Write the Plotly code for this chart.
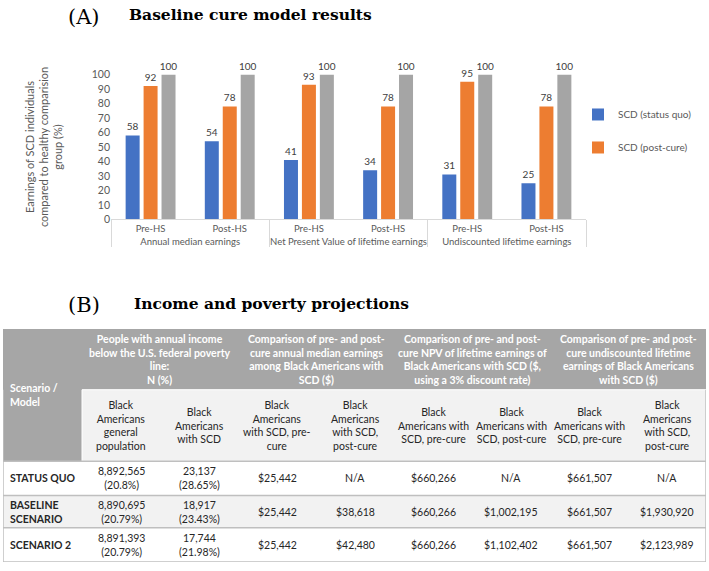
import plotly.graph_objects as go

W, H = 709, 571

# ---------------- data : panel A ----------------
measures = ["Annual median earnings", "Annual median earnings",
            "Net Present Value of lifetime earnings", "Net Present Value of lifetime earnings",
            "Undiscounted lifetime earnings", "Undiscounted lifetime earnings"]
periods = ["Pre-HS", "Post-HS", "Pre-HS", "Post-HS", "Pre-HS", "Post-HS"]
status_quo = [58, 54, 41, 34, 31, 25]
post_cure = [92, 78, 93, 78, 95, 78]
healthy = [100, 100, 100, 100, 100, 100]
series_names = ["SCD (status quo)", "SCD (post-cure)", "Healthy comparison group"]
y_title = "Earnings of SCD individuals<br>compared to healthy comparision<br>group (%)"

# ---------------- data : panel B ----------------
corner_label = "Scenario /<br>Model"
group_headers = [
    "People with annual income<br>below the U.S. federal poverty<br>line:<br>N (%)",
    "Comparison of pre- and post-<br>cure annual median earnings<br>among Black Americans with<br>SCD ($)",
    "Comparison of pre- and post-<br>cure NPV of lifetime earnings of<br>Black Americans with SCD ($,<br>using a 3% discount rate)",
    "Comparison of pre- and post-<br>cure undiscounted lifetime<br>earnings of Black Americans<br>with SCD ($)",
]
sub_headers = [
    "Black<br>Americans<br>general<br>population",
    "Black<br>Americans<br>with SCD",
    "Black<br>Americans<br>with SCD, pre-<br>cure",
    "Black<br>Americans<br>with SCD,<br>post-cure",
    "Black<br>Americans with<br>SCD, pre-cure",
    "Black<br>Americans with<br>SCD, post-cure",
    "Black<br>Americans with<br>SCD, pre-cure",
    "Black<br>Americans<br>with SCD,<br>post-cure",
]
row_labels = ["STATUS QUO", "BASELINE<br>SCENARIO", "SCENARIO 2"]
row_status_quo = ["8,892,565<br>(20.8%)", "23,137<br>(28.65%)", "$25,442", "N/A",
                  "$660,266", "N/A", "$661,507", "N/A"]
row_baseline = ["8,890,695<br>(20.79%)", "18,917<br>(23.43%)", "$25,442", "$38,618",
                "$660,266", "$1,002,195", "$661,507", "$1,930,920"]
row_scenario2 = ["8,891,393<br>(20.79%)", "17,744<br>(21.98%)", "$25,442", "$42,480",
                 "$660,266", "$1,102,402", "$661,507", "$2,123,989"]
data_rows = [row_status_quo, row_baseline, row_scenario2]

# ---------------- styles ----------------
FONT = "Lato, 'Open Sans', sans-serif"
SERIF = "'DejaVu Serif', serif"
colors = ["#4472C4", "#ED7D31", "#A5A5A5"]
TXT = "#595959"
DARK = "#A6A6A6"
LIGHT = "#F2F2F2"
LINE = "#BFBFBF"

fig = go.Figure()

values = [status_quo, post_cure, healthy]
for i, (name, vals) in enumerate(zip(series_names, values)):
    fig.add_trace(go.Bar(
        x=[measures, periods], y=vals, name=name,
        marker=dict(color=colors[i], line=dict(width=0)),
        text=vals, textposition="outside", cliponaxis=False,
        constraintext="none",
        textfont=dict(family=FONT, size=10, color="#404040"),
        showlegend=(i < 2), legendgroup=name,
        xaxis="x", yaxis="y",
    ))

# ---------------- table geometry (layout constants) ----------------
col_w = [79] + [78] * 8
row_h = [62, 73, 35, 33, 35]
col_edges = [sum(col_w[:i]) for i in range(len(col_w) + 1)]
row_edges = [sum(row_h[:i]) for i in range(len(row_h) + 1)]


def cx(c0, c1=None):
    c1 = c0 if c1 is None else c1
    return (col_edges[c0] + col_edges[c1 + 1]) / 2


def cy(r):
    return (row_edges[r] + row_edges[r + 1]) / 2


shapes = []
annotations = []


def rect(c0, c1, r0, r1, fill, lw=0, lc=None):
    shapes.append(dict(type="rect", xref="x2", yref="y2",
                       x0=col_edges[c0], x1=col_edges[c1 + 1],
                       y0=row_edges[r0], y1=row_edges[r1 + 1],
                       fillcolor=fill, line=dict(width=lw, color=lc or fill),
                       layer="below"))


ncol = len(col_w)
# header backgrounds
rect(0, ncol - 1, 0, 0, DARK)
rect(0, 0, 0, 1, DARK)
rect(1, ncol - 1, 1, 1, LIGHT, 1, "#FFFFFF")
# data row backgrounds
row_fills = ["#FFFFFF", LIGHT, "#FFFFFF"]
for k, f in enumerate(row_fills):
    rect(0, ncol - 1, 2 + k, 2 + k, f)
# row separators
for r in range(2, len(row_edges)):
    shapes.append(dict(type="line", xref="x2", yref="y2",
                       x0=col_edges[0], x1=col_edges[-1],
                       y0=row_edges[r], y1=row_edges[r],
                       line=dict(color=LINE, width=1.5)))
# outer vertical borders of body
for xe in (col_edges[0], col_edges[-1]):
    shapes.append(dict(type="line", xref="x2", yref="y2",
                       x0=xe, x1=xe, y0=row_edges[1], y1=row_edges[-1],
                       line=dict(color=LINE, width=1.5)))

TFS = 10.5


def cell_text(x, y, txt, color="#262626", bold=False, align="center", xanchor="center"):
    annotations.append(dict(xref="x2", yref="y2", x=x, y=y, text=txt,
                            showarrow=False, align=align, xanchor=xanchor,
                            yanchor="middle",
                            font=dict(family=FONT, size=TFS, color=color,
                                      weight="bold" if bold else "normal")))


# corner cell (spans two header rows)
cell_text(col_edges[0] + 5, (row_edges[0] + row_edges[2]) / 2, corner_label,
          color="#FFFFFF", bold=True, align="left", xanchor="left")
for g, txt in enumerate(group_headers):
    cell_text(cx(1 + 2 * g, 2 + 2 * g), cy(0), txt, color="#FFFFFF", bold=True)
for c, txt in enumerate(sub_headers):
    cell_text(cx(c + 1), cy(1), txt)
for r, (lab, vals) in enumerate(zip(row_labels, data_rows)):
    cell_text(col_edges[0] + 5, cy(r + 2), lab, bold=True, align="left", xanchor="left")
    for c, v in enumerate(vals):
        cell_text(cx(c + 1), cy(r + 2), v)

# panel titles
annotations += [
    dict(xref="paper", yref="paper", x=84 / W, y=1 - 11 / H, text="(A)", showarrow=False,
         xanchor="center", yanchor="middle", font=dict(family=SERIF, size=21, color="#000000")),
    dict(xref="paper", yref="paper", x=127 / W, y=1 - 9 / H, text="Baseline cure model results",
         showarrow=False, xanchor="left", yanchor="middle",
         font=dict(family=SERIF, size=15.5, color="#000000", weight="bold")),
    dict(xref="paper", yref="paper", x=84 / W, y=1 - 305 / H, text="(B)", showarrow=False,
         xanchor="center", yanchor="middle", font=dict(family=SERIF, size=21, color="#000000")),
    dict(xref="paper", yref="paper", x=132 / W, y=1 - 304 / H, text="Income and poverty projections",
         showarrow=False, xanchor="left", yanchor="middle",
         font=dict(family=SERIF, size=15.5, color="#000000", weight="bold")),
]

fig.update_layout(
    width=W, height=H,
    margin=dict(l=0, r=0, t=0, b=0),
    paper_bgcolor="#FFFFFF", plot_bgcolor="rgba(0,0,0,0)",
    barmode="group", bargap=0.32, bargroupgap=0.22,
    font=dict(family=FONT, color=TXT),
    xaxis=dict(type="multicategory", domain=[111 / W, 586 / W], anchor="y",
               showline=True, linecolor="#D9D9D9", linewidth=1,
               showdividers=True, dividercolor="#D9D9D9", dividerwidth=1,
               tickfont=dict(family=FONT, size=9.5, color=TXT), showgrid=False,
               ticks="outside", ticklen=6, tickcolor="rgba(0,0,0,0)"),
    yaxis=dict(domain=[1 - 218 / H, 1 - 70 / H], anchor="x", range=[0, 100], dtick=10,
               showgrid=False, zeroline=False, showline=False, ticks="",
               tickfont=dict(family=FONT, size=10.5, color=TXT),
               title=dict(text=y_title, standoff=26,
                          font=dict(family=FONT, size=11, color=TXT))),
    xaxis2=dict(domain=[3 / W, 706 / W], range=[0, col_edges[-1]], anchor="y2",
                visible=False, fixedrange=True),
    yaxis2=dict(domain=[1 - 568 / H, 1 - 330 / H], range=[row_edges[-1], 0], anchor="x2",
                visible=False, fixedrange=True),
    legend=dict(x=578 / W, y=1 - 96 / H, xanchor="left", yanchor="top",
                font=dict(family=FONT, size=10, color=TXT),
                tracegroupgap=14, bgcolor="rgba(0,0,0,0)", itemclick=False),
    shapes=shapes,
    annotations=annotations,
)

fig.write_html("out.html",
               config={"displayModeBar": False},
               post_script="document.body.style.margin='0';document.body.style.padding='0';"
                           "document.body.style.overflow='hidden';")
